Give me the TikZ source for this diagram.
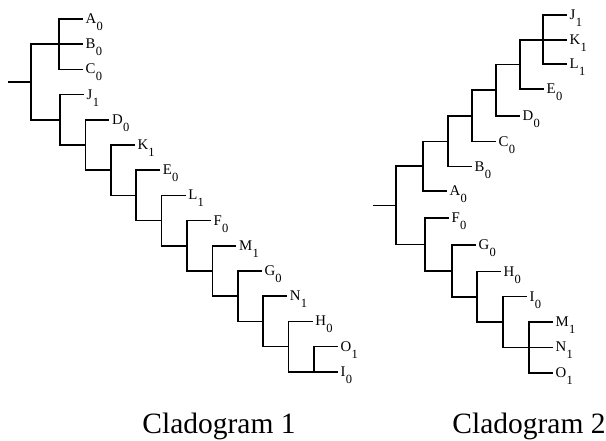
\documentclass[tikz,border=0pt]{standalone}
\usepackage{fontspec}
\setmainfont{Liberation Serif}
% lowered subscript digit used in the taxon labels
\newcommand\lsub[1]{\kern0.3pt\raisebox{-7pt}{\fontsize{12.5}{12.5}\selectfont #1}}
\begin{document}
\begin{tikzpicture}[x=1pt,y=-1pt,
  branch/.style={line width=1.6pt},
  taxon/.style={anchor=west, inner xsep=2.5pt, inner ysep=0pt,
    text height=13pt, text depth=4pt, font=\fontsize{14.8}{16}\selectfont},
  caption/.style={anchor=base, inner sep=0pt, font=\fontsize{29.5}{31}\selectfont}]
\useasboundingbox (0,0) rectangle (606,441);

% ---------------- Cladogram 1 ----------------
\coordinate (s1) at (8,82);
\coordinate (r1) at (31,82);
\coordinate (abc) at (59,44.2);
\coordinate (jn) at (60,119.8);
\coordinate (dn) at (85.4,145);
\coordinate (kn) at (110.8,170.2);
\coordinate (en) at (136.2,195.4);
\coordinate (ln) at (161.6,220.6);
\coordinate (fn) at (187,245.8);
\coordinate (mn) at (212.4,271);
\coordinate (gn) at (237.8,296.2);
\coordinate (nn) at (263.2,321.4);
\coordinate (hn) at (288.6,346.6);
\coordinate (oi) at (314,371.8);

\node[taxon] (a1) at (83,19) {A\lsub0};
\node[taxon] (b1) at (83,44.2) {B\lsub0};
\node[taxon] (c1) at (83,69.4) {C\lsub0};
\node[taxon] (j1) at (84,94.6) {J\lsub1};
\node[taxon] (d1) at (109.4,119.8) {D\lsub0};
\node[taxon] (k1) at (134.8,145) {K\lsub1};
\node[taxon] (e1) at (160.2,170.2) {E\lsub0};
\node[taxon] (l1) at (185.6,195.4) {L\lsub1};
\node[taxon] (f1) at (211,220.6) {F\lsub0};
\node[taxon] (m1) at (236.4,245.8) {M\lsub1};
\node[taxon] (g1) at (261.8,271) {G\lsub0};
\node[taxon] (n1) at (287.2,296.2) {N\lsub1};
\node[taxon] (h1) at (312.6,321.4) {H\lsub0};
\node[taxon] (o1) at (338,346.6) {O\lsub1};
\node[taxon] (i1) at (338,371.8) {I\lsub0};

\draw[branch] (s1) -- (r1);
\draw[branch] (r1) |- (abc);
\draw[branch] (r1) |- (jn);
\draw[branch] (abc) |- (a1.west);
\draw[branch] (abc) -- (b1.west);
\draw[branch] (abc) |- (c1.west);
\draw[branch] (jn) |- (j1.west);
\draw[branch] (jn) |- (dn);
\draw[branch] (dn) |- (d1.west);
\draw[branch] (dn) |- (kn);
\draw[branch] (kn) |- (k1.west);
\draw[branch] (kn) |- (en);
\draw[branch] (en) |- (e1.west);
\draw[branch] (en) |- (ln);
\draw[branch] (ln) |- (l1.west);
\draw[branch] (ln) |- (fn);
\draw[branch] (fn) |- (f1.west);
\draw[branch] (fn) |- (mn);
\draw[branch] (mn) |- (m1.west);
\draw[branch] (mn) |- (gn);
\draw[branch] (gn) |- (g1.west);
\draw[branch] (gn) |- (nn);
\draw[branch] (nn) |- (n1.west);
\draw[branch] (nn) |- (hn);
\draw[branch] (hn) |- (h1.west);
\draw[branch] (hn) |- (oi);
\draw[branch] (oi) |- (o1.west);
\draw[branch] (oi) -- (i1.west);

% ---------------- Cladogram 2 ----------------
\coordinate (s2) at (373,205.45);
\coordinate (r2) at (396,205.45);
\coordinate (q1) at (543,40);
\coordinate (q2) at (520,64.6);
\coordinate (q3) at (496,90.3);
\coordinate (q4) at (472,116);
\coordinate (q5) at (448,141.35);
\coordinate (q6) at (423,166.3);
\coordinate (p1) at (425,244.6);
\coordinate (p2) at (452,270.9);
\coordinate (p3) at (477,296.85);
\coordinate (p4) at (503,322);
\coordinate (p5) at (529,347.3);

\node[taxon] (j2) at (567,15) {J\lsub1};
\node[taxon] (k2) at (567,40) {K\lsub1};
\node[taxon] (l2) at (567,64.3) {L\lsub1};
\node[taxon] (e2) at (544,89.3) {E\lsub0};
\node[taxon] (d2) at (520,116) {D\lsub0};
\node[taxon] (c2) at (496,141.7) {C\lsub0};
\node[taxon] (b2) at (472,166.7) {B\lsub0};
\node[taxon] (a2) at (447,191.3) {A\lsub0};
\node[taxon] (f2) at (449,218.3) {F\lsub0};
\node[taxon] (g2) at (476,245) {G\lsub0};
\node[taxon] (h2) at (501,271.7) {H\lsub0};
\node[taxon] (i2) at (527,296.7) {I\lsub0};
\node[taxon] (m2) at (553,321.7) {M\lsub1};
\node[taxon] (n2) at (553,347.3) {N\lsub1};
\node[taxon] (o2) at (553,372.7) {O\lsub1};

\draw[branch] (s2) -- (r2);
\draw[branch] (r2) |- (q6);
\draw[branch] (r2) |- (p1);
\draw[branch] (q6) |- (q5);
\draw[branch] (q6) |- (a2.west);
\draw[branch] (q5) |- (q4);
\draw[branch] (q5) |- (b2.west);
\draw[branch] (q4) |- (q3);
\draw[branch] (q4) |- (c2.west);
\draw[branch] (q3) |- (q2);
\draw[branch] (q3) |- (d2.west);
\draw[branch] (q2) |- (q1);
\draw[branch] (q2) |- (e2.west);
\draw[branch] (q1) |- (j2.west);
\draw[branch] (q1) -- (k2.west);
\draw[branch] (q1) |- (l2.west);
\draw[branch] (p1) |- (f2.west);
\draw[branch] (p1) |- (p2);
\draw[branch] (p2) |- (g2.west);
\draw[branch] (p2) |- (p3);
\draw[branch] (p3) |- (h2.west);
\draw[branch] (p3) |- (p4);
\draw[branch] (p4) |- (i2.west);
\draw[branch] (p4) |- (p5);
\draw[branch] (p5) |- (m2.west);
\draw[branch] (p5) -- (n2.west);
\draw[branch] (p5) |- (o2.west);

% ---------------- captions ----------------
\node[caption] (cap1) at (219,433) {Cladogram 1};
\node[caption] (cap2) at (529,433) {Cladogram 2};
\end{tikzpicture}
\end{document}
